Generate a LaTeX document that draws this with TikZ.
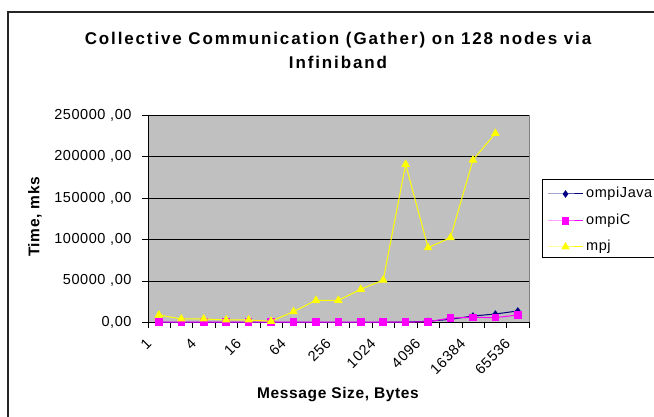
\documentclass[tikz,border=0pt]{standalone}
\usepackage{fontspec}
\setmainfont{Liberation Sans}
\usetikzlibrary{plotmarks}
\definecolor{plotgray}{HTML}{C0C0C0}
\definecolor{rimgray}{HTML}{808080}
\definecolor{javablue}{HTML}{000080}
\definecolor{cmagenta}{HTML}{FF00FF}
\definecolor{mpjyellow}{HTML}{FFFF00}

\begin{document}
\begin{tikzpicture}[x=1pt,y=-1pt,
	ticklabel/.style={font=\fontsize{14.5}{16}\selectfont\addfontfeature{LetterSpace=4},inner sep=0pt},
	axistitle/.style={font=\fontsize{15.5}{18}\selectfont\bfseries\addfontfeature{LetterSpace=4},inner sep=0pt},
	javaline/.style={javablue,line width=1pt,mark=diamond*,mark size=3pt,mark options={fill=javablue,draw=javablue}},
	cline/.style={cmagenta,line width=1pt,mark=square*,mark size=3.3pt,mark options={fill=cmagenta,draw=cmagenta}},
	mpjline/.style={mpjyellow,line width=1pt,mark=triangle*,mark size=4pt,mark options={fill=mpjyellow,draw=mpjyellow}}]
	\useasboundingbox (0,0) rectangle (654,417);

	% Draw chart frame
	\draw[line width=1.5pt,black!85] (8,417) -- (8,12) -- (654,12);

	% Draw title
	\node[font=\fontsize{17}{24}\selectfont\bfseries\addfontfeature{LetterSpace=11},align=center] (title) at (338,50) {Collective Communication (Gather) on 128 nodes via\\Infiniband};

	% Draw plot area (x in categories, y in thousands)
	\begin{scope}[shift={(147.7,322.3)},x=22.43pt,y=0.8292pt]
		\fill[plotgray] (0,0) rectangle (17,250);
		\draw[rimgray] (0,250) -- (17,250) -- (17,0);
		\foreach \v in {50,100,...,250} \draw[black] (0,\v) -- (17,\v);

		% Draw axes with ticks
		\draw[black] (0,250) -- (0,0) -- (17,0);
		\foreach \v/\t in {0/{0,00},50/{50000 ,00},100/{100000 ,00},150/{150000 ,00},200/{200000 ,00},250/{250000 ,00}} {
			\draw[black] (0,\v) -- ++(-6pt,0);
			\node[ticklabel,anchor=east] (yl\v) at ([xshift=-16pt]0,\v) {\t};
		}
		\foreach \i in {0,...,17} \draw[black] (\i,0) -- ++(0,-6pt);
		\foreach \i/\t in {0/1,2/4,4/16,6/64,8/256,10/1024,12/4096,14/16384,16/65536}
			\node[ticklabel,rotate=45,anchor=east] (xl\i) at ([shift={(-10pt,-19pt)}]\i+0.5,0) {\t};

		% Draw data series
		\draw[javaline] plot coordinates {(0.5,0) (1.5,0) (2.5,0) (3.5,0) (4.5,0) (5.5,0) (6.5,0) (7.5,0) (8.5,0) (9.5,0) (10.5,0) (11.5,0.3) (12.5,1.2) (13.5,3.6) (14.5,7.6) (15.5,10) (16.5,13.7)};
		\draw[cline] plot coordinates {(0.5,0.2) (1.5,0.2) (2.5,0.2) (3.5,0.2) (4.5,0.2) (5.5,0.2) (6.5,0.2) (7.5,0.2) (8.5,0.2) (9.5,0.2) (10.5,0.2) (11.5,0.2) (12.5,0.6) (13.5,5.2) (14.5,6) (15.5,5.6) (16.5,8.8)};
		\draw[mpjline] plot coordinates {(0.5,8.8) (1.5,4) (2.5,4) (3.5,2.8) (4.5,2.8) (5.5,1.2) (6.5,12.9) (7.5,26.5) (8.5,26.5) (9.5,39.8) (10.5,51) (11.5,190.5) (12.5,90) (13.5,102.1) (14.5,195.7) (15.5,227.9)};
	\end{scope}

	% Draw axis titles
	\node[axistitle,rotate=90] (ytitle) at (35,217) {Time, mks};
	\node[axistitle] (xtitle) at (338,395) {Message Size, Bytes};

	% Draw legend
	\draw[black,fill=white] (541.7,179.3) rectangle (660,257.7);
	\draw[javaline,mark indices={2}] plot coordinates {(548,194) (565.5,194) (583,194)};
	\draw[cline,mark indices={2}] plot coordinates {(548,221) (565.5,221) (583,221)};
	\draw[mpjline,mark indices={2}] plot coordinates {(548,247) (565.5,247) (583,247)};
	\node[ticklabel,anchor=west] (lgjava) at (586,194) {ompiJava};
	\node[ticklabel,anchor=west] (lgc) at (586,221) {ompiC};
	\node[ticklabel,anchor=west] (lgmpj) at (586,247) {mpj};
\end{tikzpicture}
\end{document}
